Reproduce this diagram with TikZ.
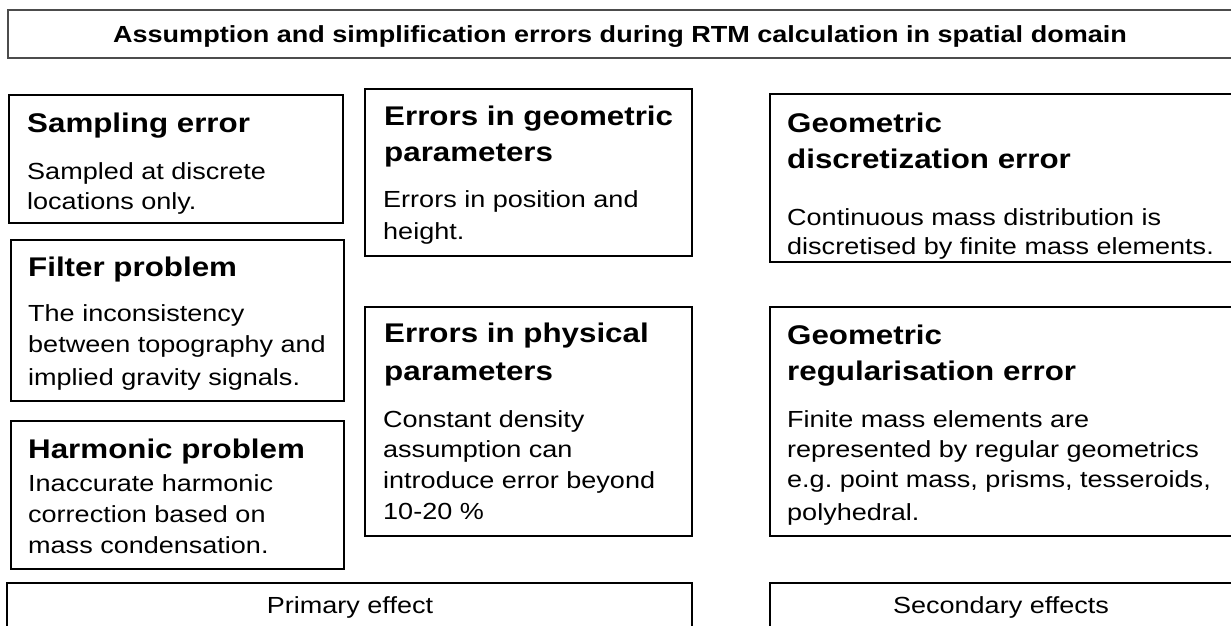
\documentclass[tikz,border=0pt]{standalone}
\usepackage{fontspec}
\setmainfont{Liberation Sans}[FakeStretch=1.16]
\usetikzlibrary{fit}
\begin{document}
\begin{tikzpicture}[x=1bp,y=-1bp,
  box/.style={draw=black, line width=1.9bp, inner sep=0pt, rectangle},
  ttlbox/.style={draw=black!70, line width=1.3bp, inner sep=0pt, rectangle},
  head/.style={anchor=base west, inner sep=0pt, font=\bfseries\fontsize{27bp}{36bp}\selectfont},
  body/.style={anchor=base west, inner sep=0pt, font=\fontsize{23.3bp}{31bp}\selectfont},
  ttltext/.style={anchor=base, inner sep=0pt, font=\bfseries\fontsize{23.3bp}{28bp}\selectfont},
  efftext/.style={anchor=base, inner sep=0pt, font=\fontsize{23.3bp}{28bp}\selectfont},
]
\useasboundingbox (0,0) rectangle (1231,626);
\clip (0,0) rectangle (1231,626);

% boxes
\node[ttlbox, fit={(8,10) (1232,58)}] (title) {};
\node[box, fit={(9,95) (343,223)}] (sampling) {};
\node[box, fit={(11,240) (344,401)}] (filter) {};
\node[box, fit={(11,421) (344,569)}] (harmonic) {};
\node[box, fit={(365,89) (692,256)}] (geompar) {};
\node[box, fit={(365,307) (692,536)}] (physpar) {};
\node[box, fit={(770,94) (1232,262)}] (discr) {};
\node[box, fit={(770,307) (1232,536)}] (regul) {};
\node[box, fit={(7,583) (692,640)}] (primary) {};
\node[box, fit={(770,583) (1232,640)}] (secondary) {};

% title
\node[ttltext] (titlet) at (620,43) {Assumption and simplification errors during RTM calculation in spatial domain};

% sampling
\node[head] (samplingh) at (27,133) {Sampling error};
\node[body] (samplingb1) at (27,180) {Sampled at discrete};
\node[body] (samplingb2) at (27,210) {locations only.};

% filter
\node[head] (filterh) at (28,277) {Filter problem};
\node[body] (filterb1) at (28,322) {The inconsistency};
\node[body] (filterb2) at (28,353) {between topography and};
\node[body] (filterb3) at (28,385) {implied gravity signals.};

% harmonic
\node[head] (harmonich) at (28,458) {Harmonic problem};
\node[body] (harmonicb1) at (28,491) {Inaccurate harmonic};
\node[body] (harmonicb2) at (28,522) {correction based on};
\node[body] (harmonicb3) at (28,553) {mass condensation.};

% geometric parameters
\node[head] (geomparh1) at (384,126) {Errors in geometric};
\node[head] (geomparh2) at (384,162) {parameters};
\node[body] (geomparb1) at (383,208) {Errors in position and};
\node[body] (geomparb2) at (383,240) {height.};

% physical parameters
\node[head] (physparh1) at (384,343) {Errors in physical};
\node[head] (physparh2) at (384,380) {parameters};
\node[body] (physparb1) at (383,427) {Constant density};
\node[body] (physparb2) at (383,457) {assumption can};
\node[body] (physparb3) at (383,488) {introduce error beyond};
\node[body] (physparb4) at (383,519) {10-20 \%};

% discretization
\node[head] (discrh1) at (787,133) {Geometric};
\node[head] (discrh2) at (787,169) {discretization error};
\node[body] (discrb1) at (787,226) {Continuous mass distribution is};
\node[body] (discrb2) at (787,255) {discretised by finite mass elements.};

% regularisation
\node[head] (regulh1) at (787,345) {Geometric};
\node[head] (regulh2) at (787,380) {regularisation error};
\node[body] (regulb1) at (787,427) {Finite mass elements are};
\node[body] (regulb2) at (787,457) {represented by regular geometrics};
\node[body] (regulb3) at (787,487) {e.g.\ point mass, prisms, tesseroids,};
\node[body] (regulb4) at (787,520) {polyhedral.};

% effects
\node[efftext] (primaryt) at (350,613) {Primary effect};
\node[efftext] (secondaryt) at (1001,613) {Secondary effects};
\end{tikzpicture}
\end{document}
